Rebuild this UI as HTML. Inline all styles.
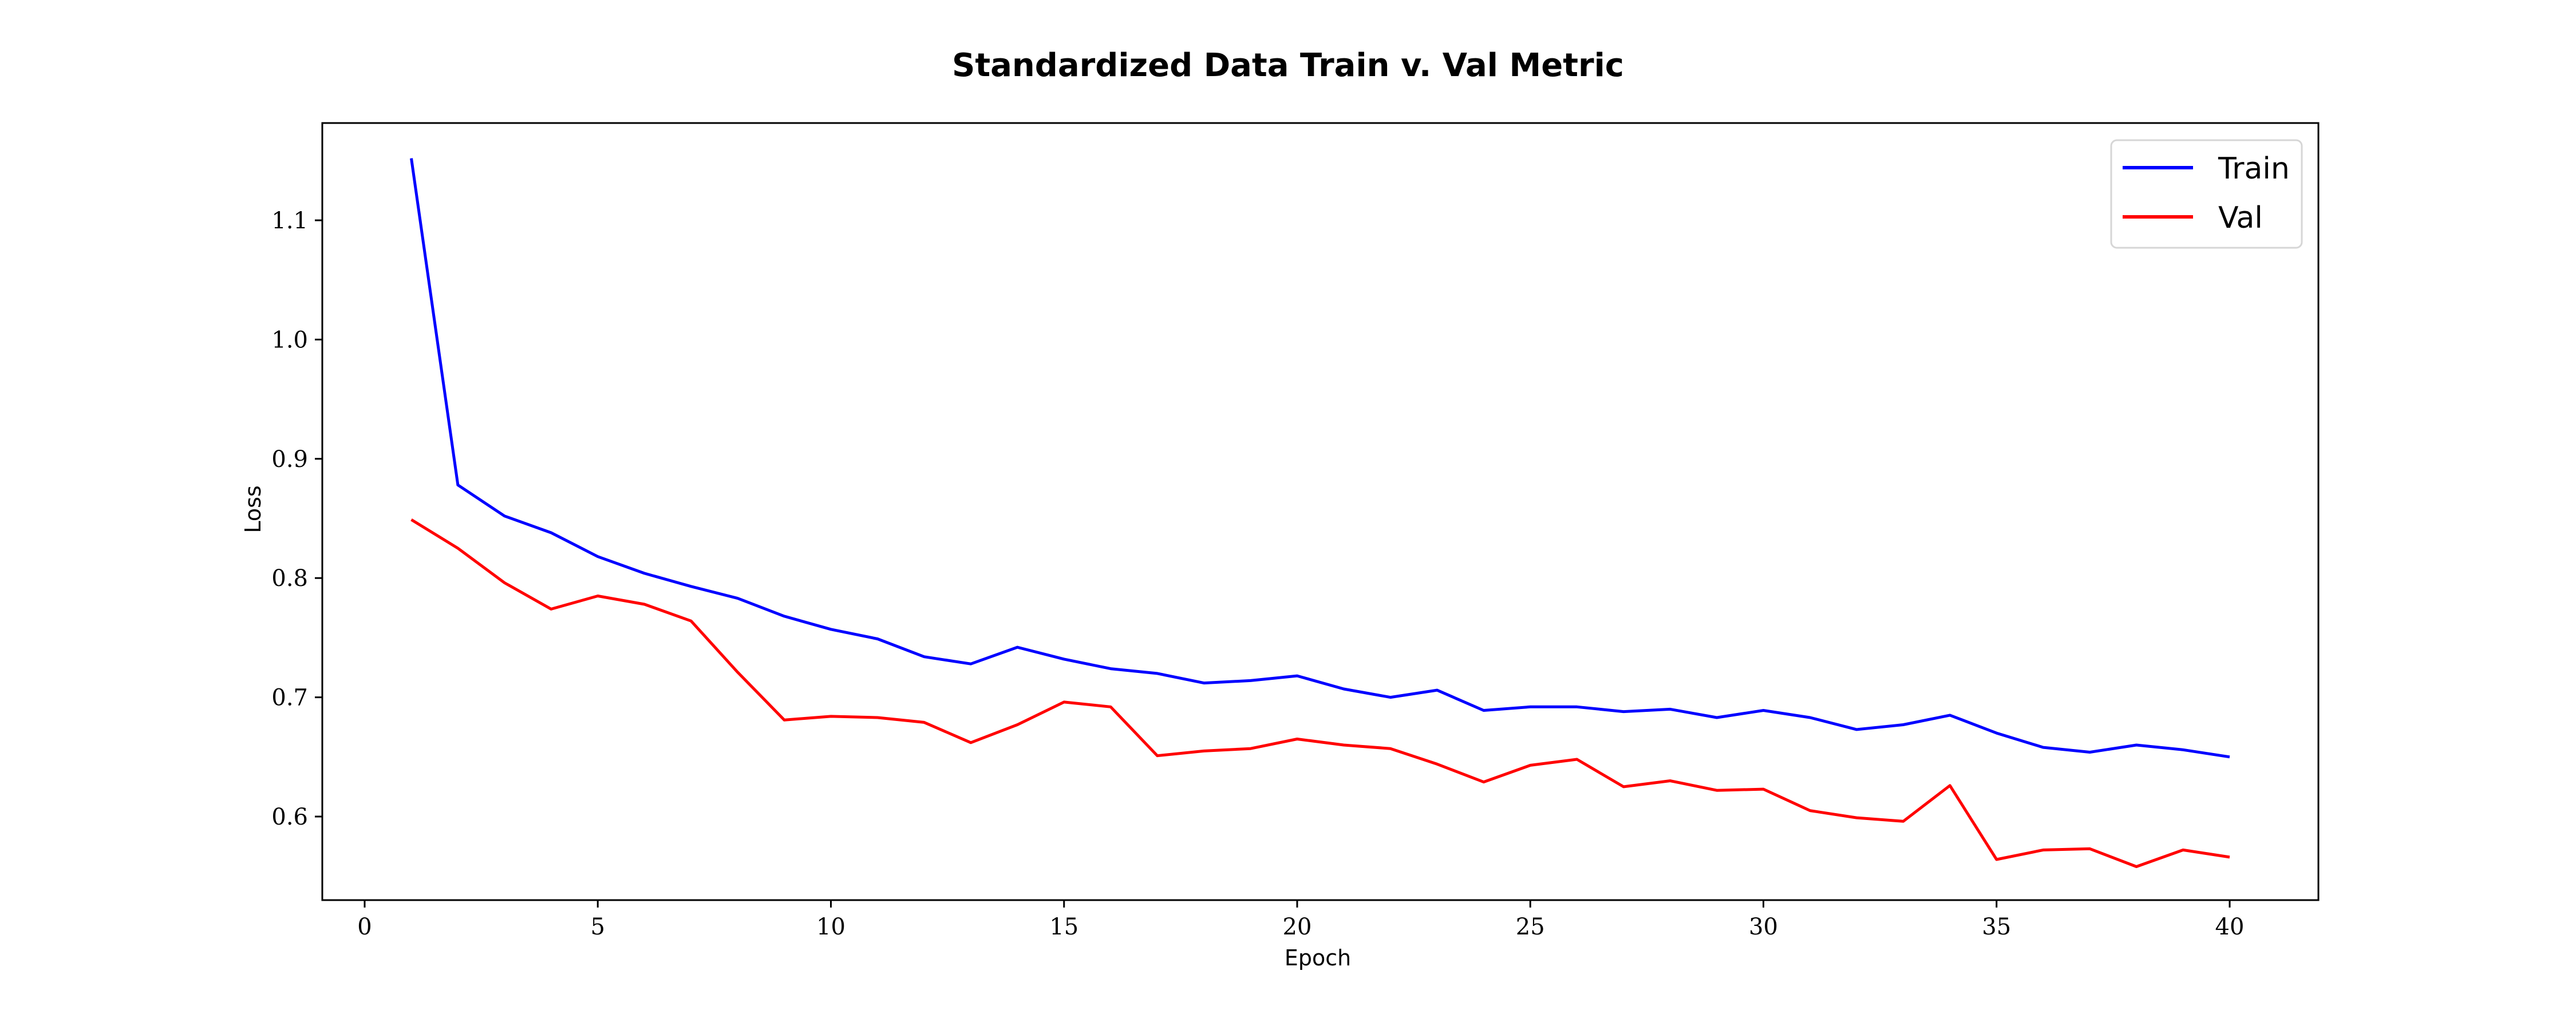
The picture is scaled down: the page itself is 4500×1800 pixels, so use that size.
<!DOCTYPE html>
<html><head><meta charset="utf-8"><style>
html,body{margin:0;padding:0;background:#fff;}
svg{display:block;}
.serif{font-family:"DejaVu Serif","Liberation Serif",serif;}
.sans{font-family:"DejaVu Sans","Liberation Sans",sans-serif;}
</style></head>
<body>
<svg id="chart" width="4500" height="1800" viewBox="0 0 4500 1800" xmlns="http://www.w3.org/2000/svg">
<rect x="0" y="0" width="4500" height="1800" fill="#fff"/>
<text class="sans" x="2250" y="133" font-size="56" font-weight="bold" text-anchor="middle">Standardized Data Train v. Val Metric</text>
<g id="plot"></g>
<rect x="563" y="215" width="3487" height="1358" fill="none" stroke="#000" stroke-width="3"/>
<text class="sans" x="2302" y="1687" font-size="38" text-anchor="middle">Epoch</text>
<text class="sans" transform="translate(455,890) rotate(-90)" font-size="38" text-anchor="middle">Loss</text>
<g>
<rect x="3688" y="245" width="333" height="188" rx="10" fill="#fff" stroke="#d6d6d6" stroke-width="3"/>
<line x1="3708" y1="293" x2="3831" y2="293" stroke="#0000ff" stroke-width="6"/>
<text class="sans" x="3875" y="312" font-size="52">Train</text>
<line x1="3708" y1="379" x2="3831" y2="379" stroke="#ff0000" stroke-width="6"/>
<text class="sans" x="3875" y="398" font-size="52">Val</text>
</g>
</svg>
<script>
const epochs = [1,2,3,4,5,6,7,8,9,10,11,12,13,14,15,16,17,18,19,20,21,22,23,24,25,26,27,28,29,30,31,32,33,34,35,36,37,38,39,40];
const trainLoss = [1.152,0.878,0.852,0.838,0.818,0.804,0.793,0.783,0.768,0.757,0.749,0.734,0.728,0.742,0.732,0.724,0.720,0.712,0.714,0.718,0.707,0.700,0.706,0.689,0.692,0.692,0.688,0.690,0.683,0.689,0.683,0.673,0.677,0.685,0.670,0.658,0.654,0.660,0.656,0.650];
const valLoss = [0.849,0.825,0.796,0.774,0.785,0.778,0.764,0.721,0.681,0.684,0.683,0.679,0.662,0.677,0.696,0.692,0.651,0.655,0.657,0.665,0.660,0.657,0.644,0.629,0.643,0.648,0.625,0.630,0.622,0.623,0.605,0.599,0.596,0.626,0.564,0.572,0.573,0.558,0.572,0.566];
const xTicks = [0,5,10,15,20,25,30,35,40];
const yTicks = [0.6,0.7,0.8,0.9,1.0,1.1];
const yTickLabels = ["0.6","0.7","0.8","0.9","1.0","1.1"];

const NS = "http://www.w3.org/2000/svg";
function xScale(e){ return 637 + e * 81.45; }
function yScale(v){ return 1427 - (v - 0.6) * 2084; }
const g = document.getElementById('plot');
function mk(tag, attrs){ const el = document.createElementNS(NS, tag); for (const k in attrs) el.setAttribute(k, attrs[k]); return el; }

xTicks.forEach(t => {
  const x = xScale(t);
  const tk = mk('line', {x1:x, y1:1573, x2:x, y2:1586, stroke:'#000', 'stroke-width':3});
  
  
  g.appendChild(tk);
  const lb = mk('text', {x:x, y:1633, 'font-size':40, 'text-anchor':'middle', class:'serif'});
  
  
  lb.textContent = String(t);
  g.appendChild(lb);
});
yTicks.forEach((t, i) => {
  const y = yScale(t);
  const tk = mk('line', {x1:550, y1:y, x2:563, y2:y, stroke:'#000', 'stroke-width':3});
  
  
  g.appendChild(tk);
  const lb = mk('text', {x:538, y:y + 14, 'font-size':40, 'text-anchor':'end', class:'serif'});
  
  
  lb.textContent = yTickLabels[i];
  g.appendChild(lb);
});
function pts(vals){ return vals.map((v, i) => xScale(epochs[i]).toFixed(1) + ',' + yScale(v).toFixed(1)).join(' '); }
const tl = mk('polyline', {points:pts(trainLoss), fill:'none', stroke:'#0000ff', 'stroke-width':5, 'stroke-linejoin':'round'});


g.appendChild(tl);
const vl = mk('polyline', {points:pts(valLoss), fill:'none', stroke:'#ff0000', 'stroke-width':5, 'stroke-linejoin':'round'});


g.appendChild(vl);
</script>
</body></html>
